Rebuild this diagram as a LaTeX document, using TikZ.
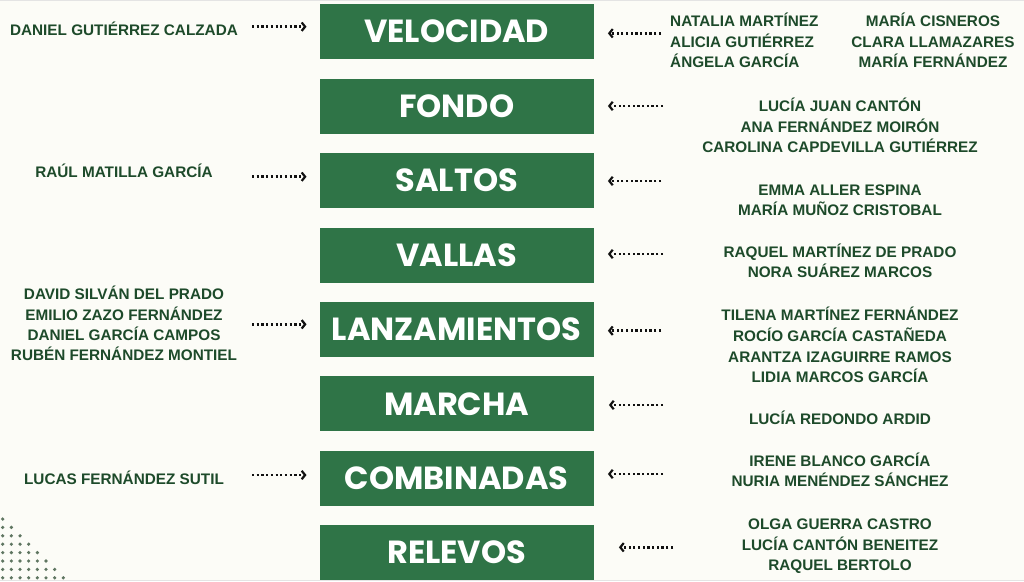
\documentclass[tikz,border=0pt]{standalone}
\usepackage{fontspec}
\setmainfont{Liberation Sans}
\newfontfamily\boxfont{Poppins}
\usetikzlibrary{arrows.meta}
\definecolor{bg}{HTML}{FCFCF7}
\definecolor{boxgreen}{HTML}{2F7447}
\definecolor{namegreen}{HTML}{1D4A2A}
\definecolor{dotgray}{HTML}{5F7661}
\definecolor{arrowcol}{HTML}{111111}
\definecolor{edgegray}{HTML}{E4E4E4}
\begin{document}
\begin{tikzpicture}[x=1pt,y=-1pt,
  catbox/.style={fill=boxgreen, draw=none, minimum width=274pt, minimum height=55pt, inner sep=0pt, anchor=north west, text=white, font=\boxfont\bfseries\fontsize{32}{38}\selectfont},
  names/.style={text=namegreen, font=\bfseries\fontsize{15.3}{20.7}\selectfont, align=center, inner sep=0pt, anchor=base},
  namesleft/.style={names, align=left, anchor=base west},
  conn/.style={arrowcol, line width=2.7pt, dash pattern=on 2.2pt off 2.5pt, -{Straight Barb[length=3.4pt,width=8.5pt,line width=2.2pt]}},
]
\fill[bg] (0,0) rectangle (1024,581);
\useasboundingbox (0,0) rectangle (1024,581);
\draw[edgegray, line width=1pt] (0,0.5) -- (1024,0.5);
\draw[edgegray, line width=1pt] (0,580.5) -- (1024,580.5);

% decorative dots
\foreach \i in {0,...,7}{
  \foreach \j in {0,...,\i}{
    \fill[dotgray] ({2.7+8.66*\j},{519+8.4*\i}) circle (1.8);
  }
}

% category boxes
\node[catbox] (vel) at (319.5,4) {VELOCIDAD};
\node[catbox] (fon) at (319.5,78.4) {FONDO};
\node[catbox] (sal) at (319.5,152.9) {SALTOS};
\node[catbox] (val) at (319.5,227.3) {VALLAS};
\node[catbox] (lan) at (319.5,301.7) {LANZAMIENTOS};
\node[catbox] (mar) at (319.5,376.1) {MARCHA};
\node[catbox] (com) at (319.5,450.6) {COMBINADAS};
\node[catbox] (rel) at (319.5,525) {RELEVOS};

% left names (anchor = baseline of last line)
\node[names] (lvel) at (124,35) {DANIEL GUTIÉRREZ CALZADA};
\node[names] (lsal) at (124,177) {RAÚL MATILLA GARCÍA};
\node[names, font=\bfseries\fontsize{15.3}{20.4}\selectfont] (llan) at (124,360.8) {DAVID SILVÁN DEL PRADO\\EMILIO ZAZO FERNÁNDEZ\\DANIEL GARCÍA CAMPOS\\RUBÉN FERNÁNDEZ MONTIEL};
\node[names] (lcom) at (124,484) {LUCAS FERNÁNDEZ SUTIL};

% right names
\node[namesleft] (rvela) at (670,67.8) {NATALIA MARTÍNEZ\\ALICIA GUTIÉRREZ\\ÁNGELA GARCÍA};
\node[names] (rvelb) at (933,67.8) {MARÍA CISNEROS\\CLARA LLAMAZARES\\MARÍA FERNÁNDEZ};
\node[names] (rfon) at (840,152.8) {LUCÍA JUAN CANTÓN\\ANA FERNÁNDEZ MOIRÓN\\CAROLINA CAPDEVILLA GUTIÉRREZ};
\node[names] (rsal) at (840,215.8) {EMMA ALLER ESPINA\\MARÍA MUÑOZ CRISTOBAL};
\node[names] (rval) at (840,277.8) {RAQUEL MARTÍNEZ DE PRADO\\NORA SUÁREZ MARCOS};
\node[names] (rlan) at (840,382.8) {TILENA MARTÍNEZ FERNÁNDEZ\\ROCÍO GARCÍA CASTAÑEDA\\ARANTZA IZAGUIRRE RAMOS\\LIDIA MARCOS GARCÍA};
\node[names] (rmar) at (840,424.8) {LUCÍA REDONDO ARDID};
\node[names] (rcom) at (840,486.8) {IRENE BLANCO GARCÍA\\NURIA MENÉNDEZ SÁNCHEZ};
\node[names] (rrel) at (840,570.8) {OLGA GUERRA CASTRO\\LUCÍA CANTÓN BENEITEZ\\RAQUEL BERTOLO};

% left arrow starts
\coordinate (avel) at (252,26.7);
\coordinate (asal) at (252,176.7);
\coordinate (alan) at (252,324.3);
\coordinate (acom) at (252,475);
\draw[conn, shorten >=13pt] (avel) -- (avel -| vel.west);
\draw[conn, shorten >=13pt] (asal) -- (asal -| sal.west);
\draw[conn, shorten >=13pt] (alan) -- (alan -| lan.west);
\draw[conn, shorten >=13pt] (acom) -- (acom -| com.west);

% right arrow starts
\coordinate (bvel) at (661,33.3);
\coordinate (bfon) at (663,106);
\coordinate (bsal) at (661,181);
\coordinate (bval) at (663,254);
\coordinate (blan) at (661,330.7);
\coordinate (bmar) at (663,405);
\coordinate (bcom) at (663,474);
\coordinate (brel) at (673,547.3);
\draw[conn, shorten >=14pt] (bvel) -- (bvel -| vel.east);
\draw[conn, shorten >=14pt] (bfon) -- (bfon -| fon.east);
\draw[conn, shorten >=14pt] (bsal) -- (bsal -| sal.east);
\draw[conn, shorten >=14pt] (bval) -- (bval -| val.east);
\draw[conn, shorten >=14pt] (blan) -- (blan -| lan.east);
\draw[conn, shorten >=15pt] (bmar) -- (bmar -| mar.east);
\draw[conn, shorten >=14pt] (bcom) -- (bcom -| com.east);
\draw[conn, shorten >=25pt] (brel) -- (brel -| rel.east);
\end{tikzpicture}
\end{document}
